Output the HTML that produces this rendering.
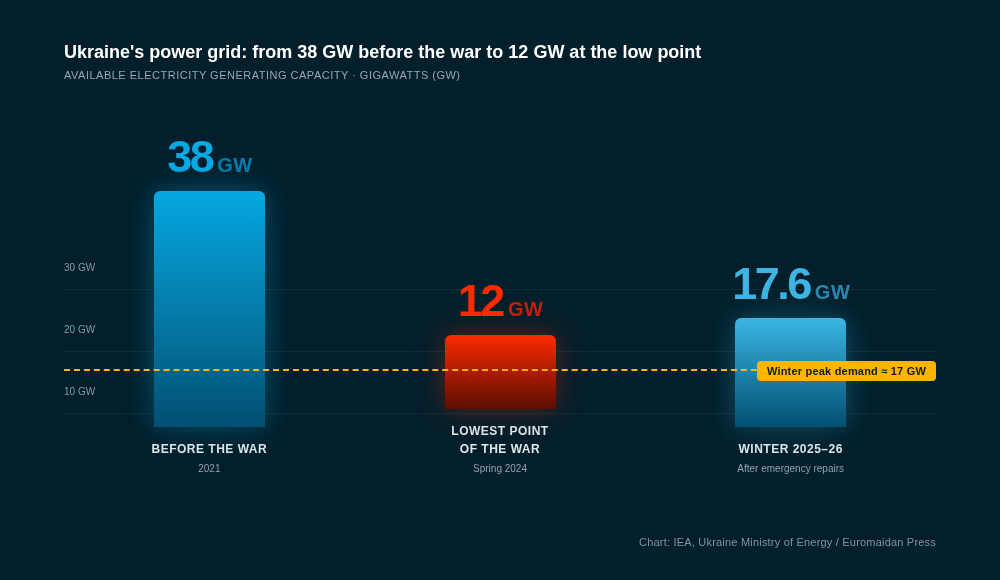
<!DOCTYPE html>
<html lang="en">
<head>
<meta charset="utf-8">
<title>Ukraine's power grid</title>
<style>
*{box-sizing:border-box;margin:0;padding:0}
html,body{width:1000px;height:580px;overflow:hidden}
body{background:#021f2b;font-family:"Liberation Sans",Arial,sans-serif;color:#fff;position:relative}
.title{position:absolute;left:64px;top:41px;font-size:18px;font-weight:700;line-height:22px;color:#fff;white-space:nowrap}
.sub{position:absolute;left:64px;top:68px;font-size:11px;line-height:14px;color:#93a8b8;letter-spacing:.5px;white-space:nowrap}
.chart{position:absolute;left:64px;top:104px;width:872px;height:371px}
.grid{position:absolute;left:0;right:0;height:1px;background:#102c39}
.ylab{position:absolute;left:0;font-size:10px;line-height:12px;color:#8499aa}
.cols{position:absolute;left:0;top:0;width:872px;height:371px;display:flex;align-items:flex-end}
.col{flex:1;display:flex;flex-direction:column;align-items:center}
.val{font-size:45px;font-weight:700;letter-spacing:-2.5px;line-height:45px;white-space:nowrap;margin-bottom:12px;position:relative;left:.6px}
.val span{line-height:1;font-size:20px;letter-spacing:.5px;margin-left:5px}
.bar{position:relative;width:111px;border-radius:6px 6px 0 0}
.lab{font-size:12px;font-weight:700;letter-spacing:.5px;line-height:18px;color:#dfe7eb;text-align:center;margin-top:13px}
.sl{font-size:10px;line-height:12px;color:#8fa3b2;text-align:center;margin-top:5px}
.dash{position:absolute;left:0;width:872px;top:265px;height:0;border-top:2px dashed #fbb806}
.tag{position:absolute;right:0;top:257px;height:20px;line-height:20px;background:#feb500;color:#0f1c22;font-size:11px;font-weight:700;letter-spacing:.2px;padding:0 10px;border-radius:4px;white-space:nowrap}
.src{position:absolute;right:64px;top:535px;font-size:11px;line-height:14px;color:#8094a2;letter-spacing:.2px;white-space:nowrap}
</style>
</head>
<body>
<div class="title">Ukraine's power grid: from 38 GW before the war to 12 GW at the low point</div>
<div class="sub">AVAILABLE ELECTRICITY GENERATING CAPACITY · GIGAWATTS (GW)</div>
<div class="chart">
  <div class="grid" style="top:185px"></div>
  <div class="grid" style="top:247px"></div>
  <div class="grid" style="top:309px"></div>
  <div class="ylab" style="top:158px">30 GW</div>
  <div class="ylab" style="top:220px">20 GW</div>
  <div class="ylab" style="top:282px">10 GW</div>
  <div class="cols">
    <div class="col">
      <div class="val" style="color:#08a8e3">38<span style="color:#057ca9">GW</span></div>
      <div class="bar" style="left:.5px;height:236px;background:linear-gradient(#06a8e2,#025072);box-shadow:0 0 30px rgba(6,168,226,.36)"></div>
      <div class="lab">BEFORE THE WAR</div>
      <div class="sl">2021</div>
    </div>
    <div class="col">
      <div class="val" style="color:#ff2a00">12<span style="color:#c0220a">GW</span></div>
      <div class="bar" style="height:74px;background:linear-gradient(#fc2a00,#5c0e00);box-shadow:0 0 30px rgba(245,40,0,.36)"></div>
      <div class="lab">LOWEST POINT<br>OF THE WAR</div>
      <div class="sl">Spring 2024</div>
    </div>
    <div class="col">
      <div class="val" style="color:#3db4e4">17.6<span style="color:#2a86ad">GW</span></div>
      <div class="bar" style="left:-.5px;height:109px;background:linear-gradient(#3ab5e2,#025072);box-shadow:0 0 30px rgba(58,181,226,.33)"></div>
      <div class="lab">WINTER 2025–26</div>
      <div class="sl">After emergency repairs</div>
    </div>
  </div>
  <div class="dash"></div>
  <div class="tag">Winter peak demand ≈ 17 GW</div>
</div>
<div class="src">Chart: IEA, Ukraine Ministry of Energy / Euromaidan Press</div>
</body>
</html>
